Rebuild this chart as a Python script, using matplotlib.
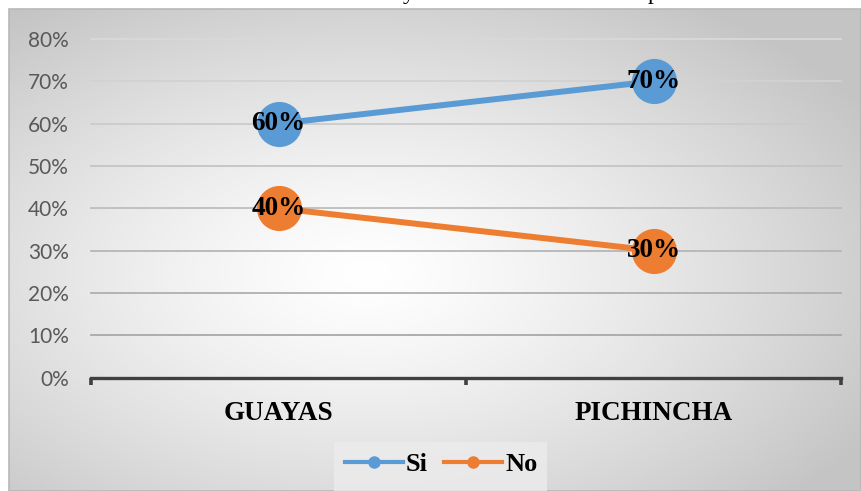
import numpy as np
import matplotlib
matplotlib.use("Agg")
import matplotlib.pyplot as plt
from matplotlib.lines import Line2D
from matplotlib.patches import Rectangle

# Data
provincias = ["GUAYAS", "PICHINCHA"]
si = [0.60, 0.70]
no = [0.40, 0.30]
y_ticks = [0.0, 0.1, 0.2, 0.3, 0.4, 0.5, 0.6, 0.7, 0.8]
y_tick_labels = ["0%", "10%", "20%", "30%", "40%", "50%", "60%", "70%", "80%"]
series_names = ["Si", "No"]

W, H = 861, 491
DPI = 100
BLUE = "#5B9BD5"
ORANGE = "#ED7D31"
SERIF = ["Liberation Serif", "DejaVu Serif"]
SANS = ["Lato", "DejaVu Sans"]

fig = plt.figure(figsize=(W / DPI, H / DPI), dpi=DPI)
fig.patch.set_facecolor("white")

# Chart area with a radial grey-to-white gradient
cx0, cy0 = 9, 9  # left / top edge of the chart area in pixels
bg = fig.add_axes([cx0 / W, 0, 1 - cx0 / W, (H - cy0) / H])
bg.set_axis_off()
gx = np.linspace(0, 1, 400)
gy = np.linspace(0, 1, 240)
X, Y = np.meshgrid(gx, gy)
r = np.sqrt(((X - 0.42) / 0.62) ** 2 + ((Y - 0.55) / 0.62) ** 2)
r = np.clip(r / 1.1, 0, 1)
shade = 1.0 - 0.23 * r ** 1.3
bg.imshow(np.dstack([shade] * 3), extent=[0, 1, 0, 1], origin="upper",
          aspect="auto", interpolation="bilinear")
bg.set_xlim(0, 1)
bg.set_ylim(0, 1)
bg.add_patch(Rectangle((0, 0), 1, 1, transform=bg.transAxes, fill=False,
                       edgecolor="#b8b8b8", linewidth=1.2, clip_on=False))

# Title line sits above the chart; only its descenders reach into view
fig.text(409 / W, 1 + 0.5 / H, "y", fontsize=17, family=SERIF,
         ha="center", va="baseline", color="black")
fig.text(654 / W, 1 + 0.5 / H, "p", fontsize=17, family=SERIF,
         ha="center", va="baseline", color="black")

# Plot axes
x0, x1 = 91, 841
y_bot, y_top = 377.5, 39
ax = fig.add_axes([x0 / W, (H - y_bot) / H, (x1 - x0) / W, (y_bot - y_top) / H])
ax.patch.set_alpha(0)
ax.set_xlim(-0.5, 1.5)
ax.set_ylim(0, 0.8)

# Horizontal gridlines, getting darker towards the bottom
for i, yv in enumerate(y_ticks[1:], start=1):
    g = 0.66 + (0.85 - 0.66) * (i - 1) / (len(y_ticks) - 2)
    ax.axhline(yv, color=(g, g, g), linewidth=1.3, zorder=1, clip_on=False)

xs = np.arange(len(provincias))
ax.plot(xs, si, color=BLUE, linewidth=4.3, marker="o", markersize=32.5,
        markeredgewidth=0, zorder=3, solid_capstyle="round")
ax.plot(xs, no, color=ORANGE, linewidth=4.3, marker="o", markersize=32.5,
        markeredgewidth=0, zorder=3, solid_capstyle="round")

for xv, v in zip(xs, si):
    ax.text(xv, v, f"{v * 100:.0f}%", ha="center", va="center",
            fontsize=19.5, fontweight="bold", family=SERIF, zorder=4)
for xv, v in zip(xs, no):
    ax.text(xv, v, f"{v * 100:.0f}%", ha="center", va="center",
            fontsize=19.5, fontweight="bold", family=SERIF, zorder=4)

# Axes styling
for side in ["top", "right", "left"]:
    ax.spines[side].set_visible(False)
ax.spines["bottom"].set_color("#404040")
ax.spines["bottom"].set_linewidth(2.4)
ax.spines["bottom"].set_capstyle("projecting")

ax.set_yticks(y_ticks)
ax.set_yticklabels(y_tick_labels, fontsize=15, family=SANS, color="#595959")
ax.tick_params(axis="y", length=0, pad=16)

ax.set_xticks(xs)
ax.set_xticklabels(provincias, fontsize=19.5, fontweight="bold", family=SERIF,
                   color="black")
ax.tick_params(axis="x", which="major", length=0, pad=17)
ax.set_xticks([-0.5, 0.5, 1.5], minor=True)
ax.tick_params(axis="x", which="minor", length=5, width=2.6, color="#404040",
               direction="out")

# Legend
fig.patches.append(Rectangle((334 / W, 0), (547 - 334) / W, (H - 442) / H,
                             transform=fig.transFigure, facecolor="#ececec",
                             edgecolor="none", alpha=0.8, zorder=1))
handles = [
    Line2D([], [], color=BLUE, linewidth=3, marker="o", markersize=9,
           markeredgewidth=0),
    Line2D([], [], color=ORANGE, linewidth=3, marker="o", markersize=9,
           markeredgewidth=0),
]
fig.legend(handles, series_names, loc="center", ncol=2,
           bbox_to_anchor=(441 / W, (H - 464) / H), frameon=False,
           prop={"family": SERIF, "weight": "bold", "size": 19},
           handlelength=2.2, handletextpad=0.12, columnspacing=0.6)

fig.savefig("out.png", dpi=DPI)
